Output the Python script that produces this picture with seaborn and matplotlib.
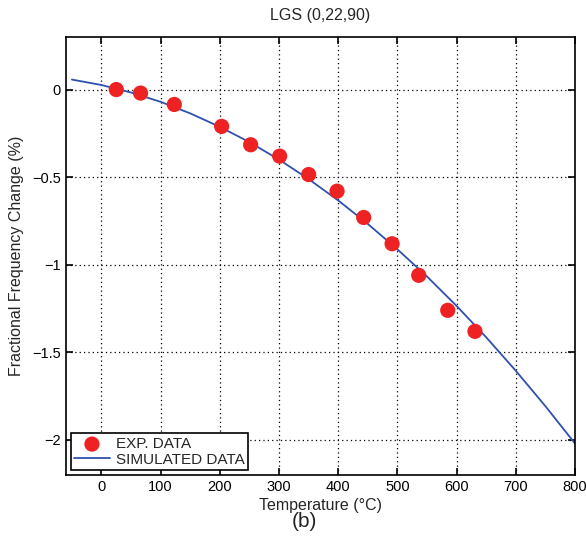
import matplotlib
matplotlib.use("Agg")
import matplotlib.pyplot as plt
import seaborn as sns
import pandas as pd

# measured points
exp_temp = [25, 66, 123, 203, 252, 301, 350, 398, 443, 491, 536, 585, 631]
exp_change = [0.0, -0.02, -0.085, -0.21, -0.315, -0.38, -0.485, -0.58, -0.73, -0.88, -1.06, -1.26, -1.38]

# simulated curve
sim_temp = [-50, 0, 50, 100, 150, 200, 250, 300, 350, 400, 450, 500, 550, 600, 650, 700, 750, 800]
sim_change = [0.057, 0.026, -0.017, -0.070, -0.136, -0.213, -0.300, -0.400, -0.511, -0.633,
              -0.767, -0.912, -1.067, -1.235, -1.414, -1.605, -1.807, -2.02]

x_ticks = [0, 100, 200, 300, 400, 500, 600, 700, 800]
y_ticks = [0, -0.5, -1, -1.5, -2]
y_tick_labels = ["0", "\u22120.5", "\u22121", "\u22121.5", "\u22122"]

exp_df = pd.DataFrame({"temp": exp_temp, "change": exp_change})
sim_df = pd.DataFrame({"temp": sim_temp, "change": sim_change})

sns.set_style("ticks")
plt.rcParams['font.family'] = ['Liberation Sans', 'DejaVu Sans']

fig = plt.figure(figsize=(5.86, 5.45), dpi=100)
ax = fig.add_axes([0.1126, 0.1284, 0.8686, 0.8037])

sns.scatterplot(data=exp_df, x="temp", y="change", ax=ax, color="#ee2222",
                s=120, edgecolor="none", label="EXP. DATA", zorder=3)
sns.lineplot(data=sim_df, x="temp", y="change", ax=ax, color="#3050b0",
             linewidth=1.3, label="SIMULATED DATA", zorder=2)

ax.set_xlim(-60, 800)
ax.set_ylim(-2.2, 0.3)
ax.set_xticks(x_ticks)
ax.set_yticks(y_ticks)
ax.set_yticklabels(y_tick_labels)
ax.grid(True, color="black", linestyle=(0, (1, 2.5)), linewidth=0.9)
ax.tick_params(direction="in", top=True, right=True, labelsize=10.5, length=5, width=1.2, colors="black")
for sp in ax.spines.values():
    sp.set_visible(True)
    sp.set_color("black")
    sp.set_linewidth(1.2)

ax.set_title("LGS (0,22,90)", fontsize=11.5, pad=12)
ax.set_xlabel("Temperature (\u00b0C)", fontsize=11.5, labelpad=3)
ax.set_ylabel("Fractional Frequency Change (%)", fontsize=11.5, labelpad=6)

leg = ax.legend(loc="lower left", fontsize=11, frameon=True, fancybox=False,
                borderaxespad=0.3, handlelength=2.3, borderpad=0.25,
                labelspacing=0.1, handletextpad=0.4)
leg.get_frame().set_edgecolor("black")
leg.get_frame().set_linewidth(1.2)
leg.get_frame().set_alpha(1)

fig.text(0.5 + 0.02, 0.044, "(b)", ha="center", va="center", fontsize=15)

fig.savefig("out.png", dpi=100)
